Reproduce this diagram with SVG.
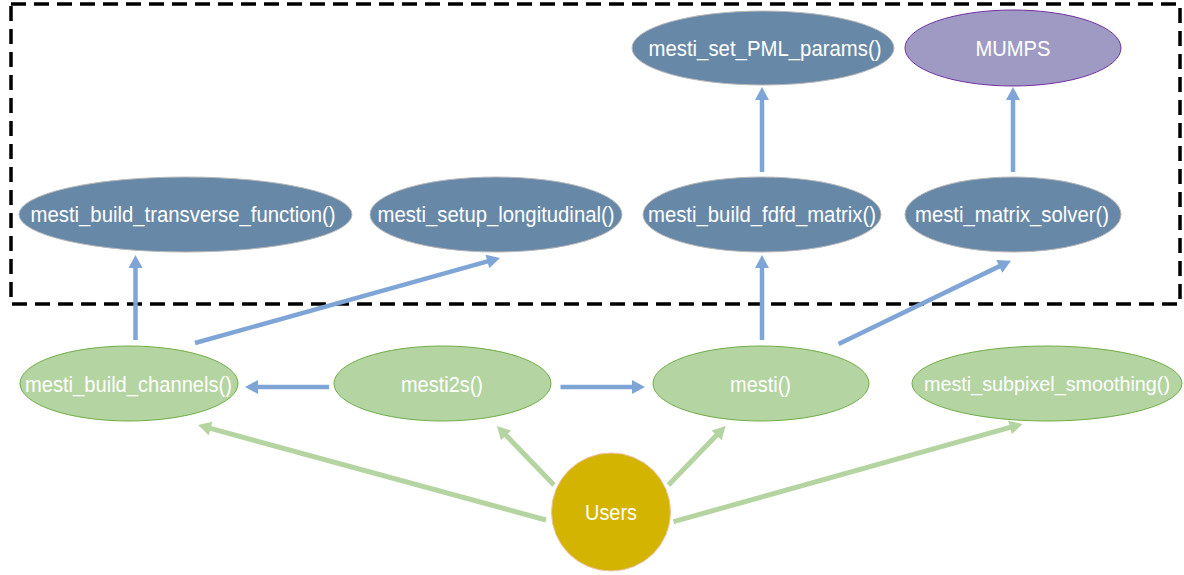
<svg xmlns="http://www.w3.org/2000/svg" width="1184" height="575" viewBox="0 0 1184 575">
<style>
.t{font-family:"Liberation Sans",Arial,sans-serif;font-size:21.5px;fill:#ffffff;text-anchor:middle}
.blue{fill:#6888a8;stroke:#b8b8b8;stroke-width:1}
.green{fill:#b4d4a1;stroke:#70ad47;stroke-width:1}
.cb{stroke:#7fa5d6;stroke-width:4.5;fill:none}
.cg{stroke:#b4d4a1;stroke-width:5;fill:none}
</style>
<defs>
<marker id="ab" markerUnits="userSpaceOnUse" markerWidth="16" markerHeight="16" viewBox="0 -8 14 16" refX="1" refY="0" orient="auto"><path d="M0,-7 L13,0 L0,7 z" fill="#7fa5d6"/></marker>
<marker id="ag" markerUnits="userSpaceOnUse" markerWidth="16" markerHeight="16" viewBox="0 -8 14 16" refX="1" refY="0" orient="auto"><path d="M0,-7 L13,0 L0,7 z" fill="#b4d4a1"/></marker>
</defs>
<rect x="11" y="4" width="1169" height="300" fill="none" stroke="#000" stroke-width="3.5" stroke-dasharray="15 8"/>
<g id="connectors">
<line class="cb" x1="135.5" y1="340" x2="135.5" y2="267" marker-end="url(#ab)"/>
<line class="cb" x1="195" y1="343" x2="488.4" y2="261.2" marker-end="url(#ab)"/>
<line class="cb" x1="762" y1="340" x2="762" y2="267" marker-end="url(#ab)"/>
<line class="cb" x1="762" y1="172" x2="762" y2="99" marker-end="url(#ab)"/>
<line class="cb" x1="1013" y1="172" x2="1013" y2="99" marker-end="url(#ab)"/>
<line class="cb" x1="838.6" y1="344" x2="1000.2" y2="265.9" marker-end="url(#ab)"/>
<line class="cb" x1="329" y1="387" x2="257" y2="387" marker-end="url(#ab)"/>
<line class="cb" x1="560.5" y1="387" x2="633" y2="387" marker-end="url(#ab)"/>
<line class="cg" x1="546" y1="520" x2="209.6" y2="428.2" marker-end="url(#ag)"/>
<line class="cg" x1="554" y1="485" x2="505.3" y2="434.6" marker-end="url(#ag)"/>
<line class="cg" x1="668.5" y1="485" x2="717.3" y2="434.6" marker-end="url(#ag)"/>
<line class="cg" x1="673.5" y1="521.7" x2="1011" y2="427.2" marker-end="url(#ag)"/>
</g>
<g id="set_pml"><ellipse class="blue" cx="763" cy="48" rx="131" ry="37"/><text class="t" x="765" y="55.5" textLength="233" lengthAdjust="spacingAndGlyphs">mesti_set_PML_params()</text></g>
<g id="mumps"><ellipse cx="1013" cy="48" rx="108" ry="38" fill="#9f9ac4" stroke="#7030a0" stroke-width="1"/><text class="t" x="1013" y="56" textLength="75" lengthAdjust="spacingAndGlyphs">MUMPS</text></g>
<g id="transverse"><ellipse class="blue" cx="185.5" cy="214.5" rx="166.5" ry="37.5"/><text class="t" x="183" y="222" textLength="305" lengthAdjust="spacingAndGlyphs">mesti_build_transverse_function()</text></g>
<g id="longitudinal"><ellipse class="blue" cx="496" cy="214.5" rx="126" ry="37.5"/><text class="t" x="496" y="222" textLength="237" lengthAdjust="spacingAndGlyphs">mesti_setup_longitudinal()</text></g>
<g id="fdfd"><ellipse class="blue" cx="762" cy="214.5" rx="119" ry="37.5"/><text class="t" x="762" y="222" textLength="228" lengthAdjust="spacingAndGlyphs">mesti_build_fdfd_matrix()</text></g>
<g id="solver"><ellipse class="blue" cx="1013" cy="214.5" rx="108" ry="37.5"/><text class="t" x="1012" y="222" textLength="194" lengthAdjust="spacingAndGlyphs">mesti_matrix_solver()</text></g>
<g id="channels"><ellipse class="green" cx="129" cy="383.5" rx="109" ry="37.5"/><text class="t" x="128.5" y="391.5" textLength="207" lengthAdjust="spacingAndGlyphs">mesti_build_channels()</text></g>
<g id="mesti2s"><ellipse class="green" cx="442.5" cy="383.5" rx="108.5" ry="37.5"/><text class="t" x="442" y="391.5" textLength="82" lengthAdjust="spacingAndGlyphs">mesti2s()</text></g>
<g id="mesti"><ellipse class="green" cx="761" cy="383.5" rx="108" ry="37.5"/><text class="t" x="760.5" y="391.5" textLength="61" lengthAdjust="spacingAndGlyphs">mesti()</text></g>
<g id="subpixel"><ellipse class="green" cx="1047" cy="383.5" rx="135" ry="37.5"/><text class="t" x="1047" y="391" style="font-size:20px" textLength="246" lengthAdjust="spacingAndGlyphs">mesti_subpixel_smoothing()</text></g>
<g id="users"><ellipse cx="611" cy="512" rx="59.5" ry="59" fill="#d3b400" stroke="#f0c0a8" stroke-width="1"/><text class="t" x="611" y="520" textLength="52" lengthAdjust="spacingAndGlyphs">Users</text></g>
</svg>
